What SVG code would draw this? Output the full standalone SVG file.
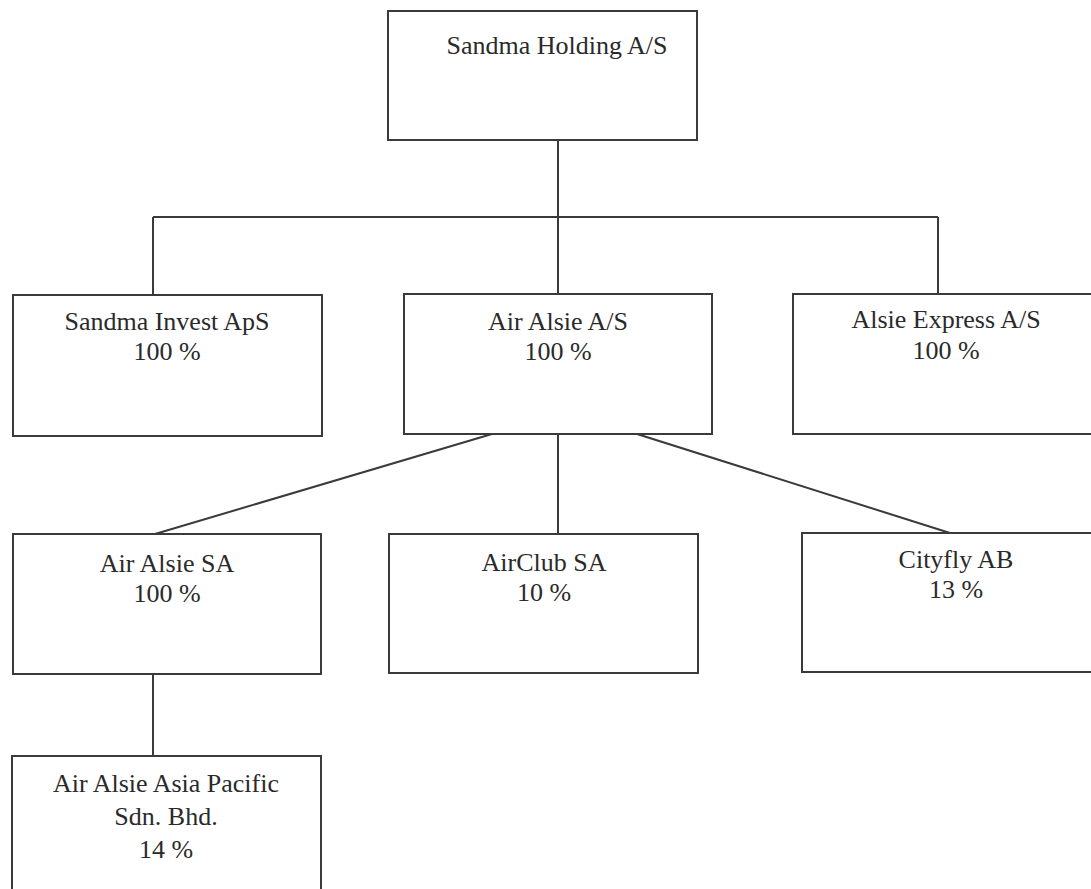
<svg xmlns="http://www.w3.org/2000/svg" width="1091" height="889" viewBox="0 0 1091 889">
<style>
.box{fill:#fff;stroke:#3a3a3a;stroke-width:2}
.conn{fill:none;stroke:#3a3a3a;stroke-width:2}
.t{font-family:'Liberation Serif','DejaVu Serif',serif;font-size:26px;fill:#2a2a2a;text-anchor:middle}
</style>
<rect width="1091" height="889" fill="#fff"/>
<g id="connectors">
<path class="conn" d="M558 140V217M153 217H938M153 217V295M558 217V294M938 217V294"/>
<path class="conn" d="M492 434L155 534M558 434V534M637 434L950 533"/>
<path class="conn" d="M153 674V756"/>
</g>
<g id="n-holding"><rect class="box" x="388" y="11" width="309" height="129"/><text class="t" x="557" y="54">Sandma Holding A/S</text></g>
<g id="n-invest"><rect class="box" x="13" y="295" width="309" height="141"/><text class="t" x="167" y="330">Sandma Invest ApS</text><text class="t" x="167" y="360">100 %</text></g>
<g id="n-airalsie"><rect class="box" x="404" y="294" width="308" height="140"/><text class="t" x="558" y="330">Air Alsie A/S</text><text class="t" x="558" y="360">100 %</text></g>
<g id="n-express"><rect class="box" x="793" y="294" width="310" height="140"/><text class="t" x="946" y="328">Alsie Express A/S</text><text class="t" x="946" y="359">100 %</text></g>
<g id="n-airalsiesa"><rect class="box" x="13" y="534" width="308" height="140"/><text class="t" x="167" y="572">Air Alsie SA</text><text class="t" x="167" y="602">100 %</text></g>
<g id="n-airclub"><rect class="box" x="389" y="534" width="309" height="139"/><text class="t" x="544" y="571">AirClub SA</text><text class="t" x="544" y="601">10 %</text></g>
<g id="n-cityfly"><rect class="box" x="802" y="533" width="310" height="139"/><text class="t" x="956" y="568">Cityfly AB</text><text class="t" x="956" y="598">13 %</text></g>
<g id="n-asia"><rect class="box" x="12" y="756" width="309" height="160"/><text class="t" x="166" y="792">Air Alsie Asia Pacific</text><text class="t" x="166" y="825">Sdn. Bhd.</text><text class="t" x="166" y="858">14 %</text></g>
</svg>
